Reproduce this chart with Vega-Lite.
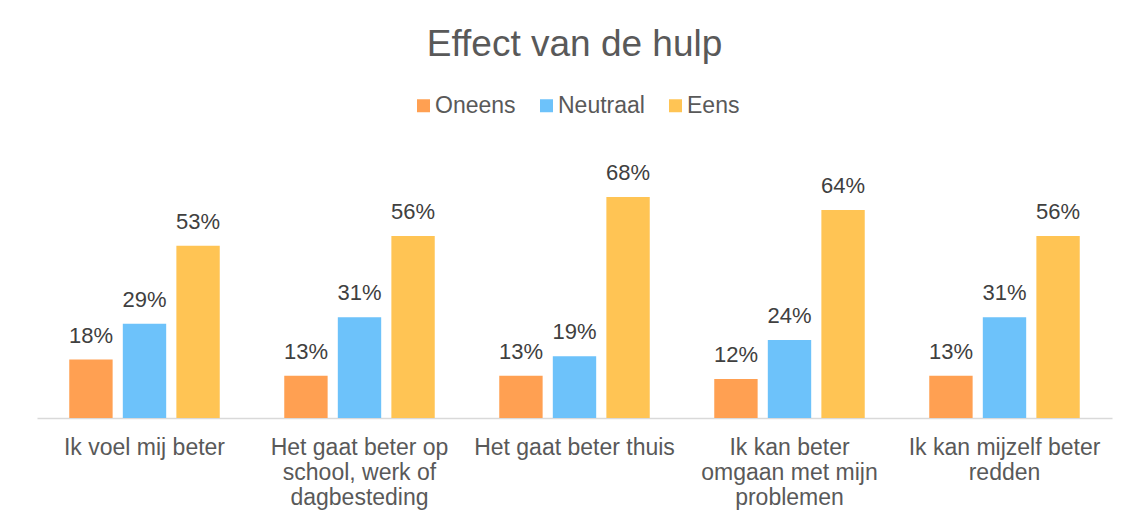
{
  "$schema": "https://vega.github.io/schema/vega-lite/v6.json",
  "width": 1075,
  "height": 260,
  "autosize": {"type": "none"},
  "padding": {"left": 37, "top": 158, "right": 24, "bottom": 111},
  "background": "white",
  "config": {
    "font": "Liberation Sans",
    "view": {"stroke": null}
  },
  "title": {
    "text": "Effect van de hulp",
    "fontSize": 37,
    "fontWeight": "normal",
    "color": "#595959",
    "anchor": "middle",
    "offset": 30
  },
  "data": {
    "values": [
      {"cat": "Ik voel mij beter", "resp": "Oneens", "value": 0.18},
      {"cat": "Ik voel mij beter", "resp": "Neutraal", "value": 0.29},
      {"cat": "Ik voel mij beter", "resp": "Eens", "value": 0.53},
      {"cat": "Het gaat beter op|school, werk of|dagbesteding", "resp": "Oneens", "value": 0.13},
      {"cat": "Het gaat beter op|school, werk of|dagbesteding", "resp": "Neutraal", "value": 0.31},
      {"cat": "Het gaat beter op|school, werk of|dagbesteding", "resp": "Eens", "value": 0.56},
      {"cat": "Het gaat beter thuis", "resp": "Oneens", "value": 0.13},
      {"cat": "Het gaat beter thuis", "resp": "Neutraal", "value": 0.19},
      {"cat": "Het gaat beter thuis", "resp": "Eens", "value": 0.68},
      {"cat": "Ik kan beter|omgaan met mijn|problemen", "resp": "Oneens", "value": 0.12},
      {"cat": "Ik kan beter|omgaan met mijn|problemen", "resp": "Neutraal", "value": 0.24},
      {"cat": "Ik kan beter|omgaan met mijn|problemen", "resp": "Eens", "value": 0.64},
      {"cat": "Ik kan mijzelf beter|redden", "resp": "Oneens", "value": 0.13},
      {"cat": "Ik kan mijzelf beter|redden", "resp": "Neutraal", "value": 0.31},
      {"cat": "Ik kan mijzelf beter|redden", "resp": "Eens", "value": 0.56}
    ]
  },
  "encoding": {
    "x": {
      "field": "cat",
      "type": "nominal",
      "sort": null,
      "scale": {"paddingInner": 0.3, "paddingOuter": 0.15},
      "axis": {
        "title": null,
        "labelAngle": 0,
        "labelExpr": "split(datum.label, '|')",
        "labelFontSize": 23,
        "labelColor": "#595959",
        "labelLineHeight": 25,
        "labelPadding": 18,
        "labelLimit": 500,
        "labelOverlap": false,
        "labelBound": false,
        "ticks": false,
        "tickSize": 0,
        "domainColor": "#d9d9d9",
        "domainWidth": 1.5
      }
    },
    "xOffset": {
      "field": "resp",
      "type": "nominal",
      "sort": ["Oneens", "Neutraal", "Eens"],
      "scale": {"paddingInner": 0.19, "paddingOuter": 0}
    },
    "y": {
      "field": "value",
      "type": "quantitative",
      "scale": {"domain": [0, 0.8]},
      "axis": null
    }
  },
  "layer": [
    {
      "mark": {"type": "bar"},
      "encoding": {
        "color": {
          "field": "resp",
          "type": "nominal",
          "sort": ["Oneens", "Neutraal", "Eens"],
          "scale": {
            "domain": ["Oneens", "Neutraal", "Eens"],
            "range": ["#FFA052", "#6DC2FA", "#FFC454"]
          },
          "legend": {
            "title": null,
            "orient": "none",
            "legendX": 375,
            "legendY": -64,
            "direction": "horizontal",
            "symbolType": "square",
            "symbolSize": 169,
            "symbolStrokeWidth": 0,
            "labelFontSize": 23,
            "labelColor": "#595959",
            "labelOffset": 0,
            "columnPadding": 19
          }
        }
      }
    },
    {
      "mark": {"type": "text", "baseline": "alphabetic", "dy": -17, "fontSize": 22, "color": "#404040"},
      "encoding": {
        "text": {"field": "value", "type": "quantitative", "format": ".0%"}
      }
    }
  ]
}
